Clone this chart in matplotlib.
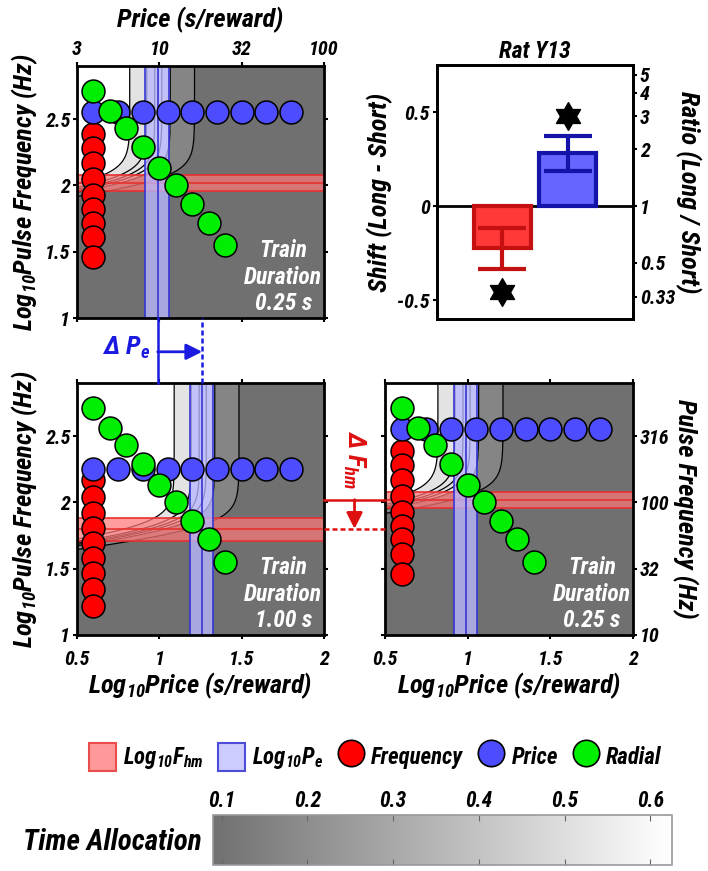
import numpy as np
import matplotlib
matplotlib.use('Agg')
import matplotlib.pyplot as plt
from matplotlib import font_manager
from matplotlib.patches import Patch
from matplotlib.lines import Line2D
from matplotlib.colors import LinearSegmentedColormap, Normalize
from matplotlib.cm import ScalarMappable
from matplotlib.path import Path
import matplotlib.transforms as mtransforms

# ---------------- fonts (prefer a narrow / condensed sans) ----------------
ttf = font_manager.fontManager.ttflist
names = {f.name for f in ttf}
FONT, STRETCH = 'Liberation Sans', 'normal'
if 'Liberation Sans Narrow' in names:
    FONT, STRETCH = 'Liberation Sans Narrow', 'normal'
else:
    for pref in ['Roboto Condensed', 'Open Sans Condensed', 'Noto Sans Condensed',
                 'DejaVu Sans Condensed']:
        if pref in names:
            FONT = pref
            break
    else:
        conds = [f for f in ttf if f.stretch in ('condensed', 'semi-condensed')
                 and f.name in ('DejaVu Sans', 'Noto Sans', 'Open Sans', 'Roboto')]
        if conds:
            FONT, STRETCH = conds[0].name, conds[0].stretch
FS_SCALE = 1.0 if (FONT != 'Liberation Sans') else 0.9

plt.rcParams['font.family'] = [FONT, 'DejaVu Sans']
plt.rcParams['font.weight'] = 'bold'
plt.rcParams['font.style'] = 'italic'
plt.rcParams['font.stretch'] = STRETCH
plt.rcParams['axes.labelweight'] = 'bold'
plt.rcParams['axes.titleweight'] = 'bold'
_pat = f'{FONT}:style=italic:weight=bold:stretch={STRETCH}'
plt.rcParams['mathtext.fontset'] = 'custom'
plt.rcParams['mathtext.rm'] = _pat
plt.rcParams['mathtext.it'] = _pat
plt.rcParams['mathtext.bf'] = _pat
plt.rcParams['mathtext.default'] = 'it'

# ---------------- data ----------------
freq_x = 0.6
freq_y_short = [2.39, 2.28, 2.17, 2.05, 1.93, 1.82, 1.72, 1.61, 1.46]
freq_y_long = [2.17, 2.04, 1.92, 1.81, 1.69, 1.58, 1.47, 1.35, 1.22]
price_x = [0.6, 0.75, 0.9, 1.05, 1.2, 1.35, 1.5, 1.65, 1.8]
price_y_short = 2.55
price_y_long = 2.25
radial_x = [0.6, 0.7, 0.8, 0.9, 1.0, 1.1, 1.2, 1.3, 1.4]
radial_y = [2.71, 2.56, 2.43, 2.29, 2.13, 2.0, 1.86, 1.72, 1.55]

# fitted parameters (log10 units) and confidence bands
pe_short, pe_short_lo, pe_short_hi = 0.99, 0.915, 1.057
pe_long, pe_long_lo, pe_long_hi = 1.26, 1.183, 1.325
fhm_short, fhm_short_lo, fhm_short_hi = 2.02, 1.96, 2.075
fhm_long, fhm_long_lo, fhm_long_hi = 1.80, 1.71, 1.88
ta_min, ta_max = 0.09, 0.625
slope_price, slope_freq = 7.7, 6.0

# bar chart
bar_pos = [1, 2]
shift_vals = [-0.225, 0.28]
shift_err = [0.11, 0.095]
star_y = [-0.455, 0.48]
ratio_ticks = [0.33, 0.5, 1, 2, 3, 4, 5]
ratio_labels = ['0.33', '0.5', '1', '2', '3', '4', '5']

# tick labels
log_x_ticks = [0.5, 1, 1.5, 2]
log_x_labels = ['0.5', '1', '1.5', '2']
log_y_ticks = [1, 1.5, 2, 2.5]
log_y_labels = ['1', '1.5', '2', '2.5']
price_top_labels = ['3', '10', '32', '100']
freq_right_labels = ['10', '32', '100', '316']
ta_levels = [0.1, 0.2, 0.3, 0.4, 0.5, 0.6]
cbar_ticks = [0.1, 0.2, 0.3, 0.4, 0.5, 0.6]

# ---------------- styles ----------------
RED = '#ff0000'
BLUE = '#4d4dff'
GREEN = '#00ee00'
cmap = LinearSegmentedColormap.from_list('ta', [(0.44, 0.44, 0.44), (1, 1, 1)])
norm = Normalize(ta_min, ta_max)
MS = 16.5
TICK = 14.5 * FS_SCALE
LABEL = 19 * FS_SCALE
INNER = 17 * FS_SCALE
LEG = 16.5 * FS_SCALE

fig = plt.figure(figsize=(7.08, 8.71), dpi=100)


def mountain(x, y, pe, fhm):
    intensity = 1.0 / (1.0 + 10 ** (-slope_freq * (y - fhm)))
    frac = 1.0 / (1.0 + 10 ** (slope_price * (x - pe - np.log10(intensity))))
    return ta_min + (ta_max - ta_min) * frac


def style_axes(ax):
    for s in ax.spines.values():
        s.set_linewidth(2)
    ax.tick_params(direction='out', length=3, width=1.5, top=True, right=True,
                   labelsize=TICK, pad=2)


def panel(ax, pe, pe_lo, pe_hi, fhm, fhm_lo, fhm_hi, freq_y, price_y, dur):
    xs = np.linspace(0.5, 2, 400)
    ys = np.linspace(1, 2.9, 400)
    X, Y = np.meshgrid(xs, ys)
    Z = mountain(X, Y, pe, fhm)
    fills = [cmap(norm(0.09)), cmap(norm(0.17)), cmap(norm(0.52)), (1, 1, 1)]
    ax.contourf(X, Y, Z, levels=[0, 0.1, 0.2, 0.6, 1.0], colors=fills, zorder=0)
    ax.contour(X, Y, Z, levels=ta_levels, colors='k', linewidths=0.9, zorder=1)
    ax.axhspan(fhm_lo, fhm_hi, facecolor=(1, 0.47, 0.47), alpha=0.72, lw=0, zorder=2)
    for v in (fhm_lo, fhm, fhm_hi):
        ax.axhline(v, color='#e83030', lw=1.2, zorder=2.1)
    ax.axvspan(pe_lo, pe_hi, facecolor=(0.72, 0.72, 1), alpha=0.78, lw=0, zorder=2.2)
    for v in (pe_lo, pe, pe_hi):
        ax.axvline(v, color='#3535d5', lw=1.2, zorder=2.3)
    ax.plot([freq_x] * len(freq_y), freq_y, 'o', ms=MS, mfc=RED, mec='k', mew=1.1, zorder=3)
    ax.plot(price_x, [price_y] * len(price_x), 'o', ms=MS, mfc=BLUE, mec='k', mew=1.1, zorder=4)
    ax.plot(radial_x, radial_y, 'o', ms=MS, mfc=GREEN, mec='k', mew=1.1, zorder=5)
    ax.text(0.835, 0.01, 'Train\nDuration\n' + dur, transform=ax.transAxes, color='white',
            ha='center', va='bottom', fontsize=INNER, linespacing=1.2, zorder=6)
    ax.set_xlim(0.5, 2)
    ax.set_ylim(1, 2.9)
    ax.set_xticks(log_x_ticks)
    ax.set_yticks(log_y_ticks)
    style_axes(ax)


# ---------- top-left ----------
ax_tl = fig.add_axes([0.1088, 0.6349, 0.3489, 0.2893])
panel(ax_tl, pe_short, pe_short_lo, pe_short_hi, fhm_short, fhm_short_lo, fhm_short_hi,
      freq_y_short, price_y_short, '0.25 s')
ax_tl.set_xticklabels(price_top_labels)
ax_tl.set_yticklabels(log_y_labels)
ax_tl.tick_params(labeltop=True, labelbottom=False)
ax_tl.xaxis.set_label_position('top')
ax_tl.set_xlabel('Price (s/reward)', fontsize=LABEL, labelpad=9)
ax_tl.set_ylabel('Log$_{10}$Pulse Frequency (Hz)', fontsize=LABEL, labelpad=3)

# ---------- bottom-left ----------
ax_bl = fig.add_axes([0.1088, 0.2710, 0.3489, 0.2893])
panel(ax_bl, pe_long, pe_long_lo, pe_long_hi, fhm_long, fhm_long_lo, fhm_long_hi,
      freq_y_long, price_y_long, '1.00 s')
ax_bl.set_xticklabels(log_x_labels)
ax_bl.set_yticklabels(log_y_labels)
ax_bl.tick_params(axis='x', pad=8)
ax_bl.set_xlabel('Log$_{10}$Price (s/reward)', fontsize=LABEL, labelpad=1)
ax_bl.set_ylabel('Log$_{10}$Pulse Frequency (Hz)', fontsize=LABEL, labelpad=3)

# ---------- bottom-right ----------
ax_br = fig.add_axes([0.5438, 0.2710, 0.3503, 0.2893])
panel(ax_br, pe_short, pe_short_lo, pe_short_hi, fhm_short, fhm_short_lo, fhm_short_hi,
      freq_y_short, price_y_short, '0.25 s')
ax_br.set_xticklabels(log_x_labels)
ax_br.set_yticklabels(freq_right_labels)
ax_br.tick_params(labelleft=False, labelright=True)
ax_br.tick_params(axis='x', pad=8)
ax_br.yaxis.set_label_position('right')
ax_br.set_xlabel('Log$_{10}$Price (s/reward)', fontsize=LABEL, labelpad=1)
ax_br.set_ylabel('Pulse Frequency (Hz)', fontsize=LABEL, rotation=270, labelpad=21)

# ---------- bar chart ----------
ax_bar = fig.add_axes([0.6172, 0.6338, 0.2768, 0.2916])
ax_bar.axhline(0, color='k', lw=2, zorder=1)
ax_bar.bar(bar_pos, shift_vals, width=0.88, color=['#ff3838', '#6565ff'],
           edgecolor=['#c41010', '#1414a8'], linewidth=3, zorder=2)
for x, v, e, c in zip(bar_pos, shift_vals, shift_err, ['#c41010', '#1414a8']):
    ax_bar.errorbar(x, v, yerr=e, color=c, lw=3, capsize=17, capthick=3, zorder=3)
hexagram = Path.unit_regular_star(6, innerCircle=0.577)
ax_bar.plot(bar_pos, star_y, ls='', marker=hexagram, ms=20, color='k', zorder=4)
ax_bar.set_xlim(0, 3)
ax_bar.set_ylim(-0.6, 0.75)
ax_bar.set_xticks([])
ax_bar.set_yticks([-0.5, 0, 0.5])
ax_bar.set_yticklabels(['-0.5', '0', '0.5'])
for s in ax_bar.spines.values():
    s.set_linewidth(2)
ax_bar.tick_params(direction='out', length=3, width=1.5, labelsize=TICK, pad=2)
ax_bar.set_ylabel('Shift (Long - Short)', fontsize=LABEL, labelpad=3)
ax_bar.set_title('Rat Y13', fontsize=17 * FS_SCALE, pad=5)
ax_r = ax_bar.twinx()
ax_r.set_ylim(-0.6, 0.75)
ax_r.set_yticks(np.log10(ratio_ticks))
ax_r.set_yticklabels(ratio_labels)
ax_r.tick_params(direction='out', length=3, width=1.5, labelsize=TICK, pad=2)
for s in ax_r.spines.values():
    s.set_linewidth(2)
ax_r.set_ylabel('Ratio (Long / Short)', fontsize=LABEL, rotation=270, labelpad=19)

# ---------- Delta Pe annotation ----------
PE_COL = '#1a1ae0'
tr = mtransforms.blended_transform_factory(ax_bl.transData, fig.transFigure)
y_lo = ax_bl.get_position().y1
y_hi = ax_tl.get_position().y0
fig.add_artist(Line2D([pe_short, pe_short], [y_lo, y_hi], transform=tr, color=PE_COL, lw=1.8))
fig.add_artist(Line2D([pe_long, pe_long], [y_lo, y_hi], transform=tr, color=PE_COL, lw=1.8,
                      ls=(0, (2, 1.2))))
y_arr = y_lo + 0.48 * (y_hi - y_lo)
ax_bl.annotate('', xy=(pe_long, y_arr), xytext=(pe_short, y_arr), xycoords=tr, textcoords=tr,
               arrowprops=dict(arrowstyle='-|>', color=PE_COL, lw=2, mutation_scale=24,
                               shrinkA=0, shrinkB=0), annotation_clip=False)
fig.text(0.945, y_arr + 0.004, 'Δ P$_e$', transform=tr, color=PE_COL, fontsize=LABEL,
         ha='right', va='center')

# ---------- Delta Fhm annotation ----------
FH_COL = '#dd1010'
tr2 = mtransforms.blended_transform_factory(fig.transFigure, ax_bl.transData)
x_lo = ax_bl.get_position().x1
x_hi = ax_br.get_position().x0
fig.add_artist(Line2D([x_lo, x_hi], [fhm_short, fhm_short], transform=tr2, color=FH_COL, lw=1.8))
fig.add_artist(Line2D([x_lo, x_hi], [fhm_long, fhm_long], transform=tr2, color=FH_COL, lw=1.8,
                      ls=(0, (2, 1.2))))
x_arr = 0.5 * (x_lo + x_hi)
ax_bl.annotate('', xy=(x_arr, fhm_long), xytext=(x_arr, fhm_short), xycoords=tr2, textcoords=tr2,
               arrowprops=dict(arrowstyle='-|>', color=FH_COL, lw=2, mutation_scale=24,
                               shrinkA=0, shrinkB=0), annotation_clip=False)
fig.text(x_arr, 2.32, 'Δ F$_{hm}$', transform=tr2, color=FH_COL, fontsize=LABEL,
         ha='center', va='center', rotation=270)

# ---------- legend ----------
handles = [Patch(facecolor=(1, 0.6, 0.6), edgecolor=(0.92, 0.3, 0.3), lw=1.5),
           Patch(facecolor=(0.8, 0.8, 1), edgecolor=(0.3, 0.3, 0.85), lw=1.5),
           Line2D([], [], ls='', marker='o', ms=19, mfc=RED, mec='k', mew=1.2),
           Line2D([], [], ls='', marker='o', ms=19, mfc=BLUE, mec='k', mew=1.2),
           Line2D([], [], ls='', marker='o', ms=19, mfc=GREEN, mec='k', mew=1.2)]
labels = ['Log$_{10}$F$_{hm}$', 'Log$_{10}$P$_e$', 'Frequency', 'Price', 'Radial']
fig.legend(handles, labels, loc='center', bbox_to_anchor=(0.53, 0.131), ncol=5, frameon=False,
           fontsize=LEG, handlelength=1.2, handleheight=1.5, columnspacing=0.6,
           handletextpad=0.3)

# ---------- colorbar ----------
cax = fig.add_axes([0.301, 0.007, 0.648, 0.057])
cb = fig.colorbar(ScalarMappable(norm=norm, cmap=cmap), cax=cax, orientation='horizontal',
                  ticklocation='top')
cb.set_ticks(cbar_ticks)
cb.set_ticklabels([f'{t:.1f}' for t in cbar_ticks])
cb.outline.set_edgecolor('0.6')
cb.outline.set_linewidth(1.2)
cax.tick_params(direction='in', top=True, bottom=True, labelbottom=False, length=4,
                color='0.4', labelsize=15.5 * FS_SCALE, pad=2)
fig.text(0.285, 0.033, 'Time Allocation', ha='right', va='center', fontsize=21 * FS_SCALE)

fig.savefig('out.png', dpi=100)
